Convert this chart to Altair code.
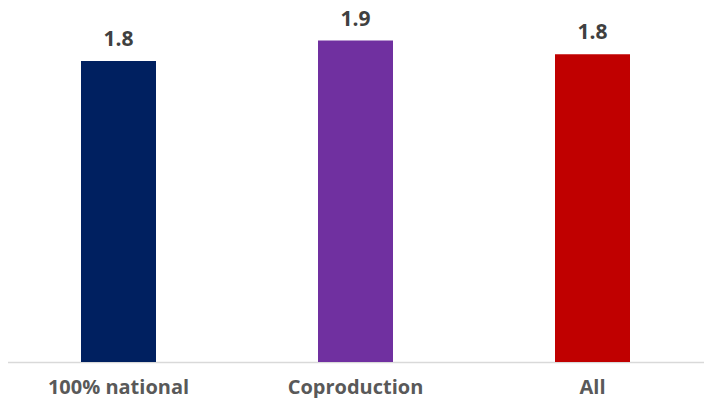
import altair as alt
import pandas as pd

categories = ["100% national", "Coproduction", "All"]
values = [1.76, 1.88, 1.80]
labels = ["1.8", "1.9", "1.8"]
colors = ["#002060", "#7030A0", "#C00000"]

df = pd.DataFrame({"cat": categories, "value": values, "label": labels})

x = alt.X("cat:N", sort=categories, title=None,
          axis=alt.Axis(labelAngle=0, ticks=False, domainColor="#D9D9D9", domainWidth=1.5,
                        labelFont="Open Sans", labelFontWeight="bold", labelFontSize=20,
                        labelColor="#595959", labelPadding=15),
          scale=alt.Scale(paddingInner=0.68, paddingOuter=0.34))
y = alt.Y("value:Q", scale=alt.Scale(domain=[0, 2.0]), axis=None)

bars = alt.Chart(df).mark_bar(size=75).encode(
    x=x, y=y,
    color=alt.Color("cat:N", scale=alt.Scale(domain=categories, range=colors), legend=None),
)
text = alt.Chart(df).mark_text(baseline="alphabetic", dy=-15, font="Open Sans",
                               fontWeight="bold", fontSize=21, color="#404040").encode(
    x=alt.X("cat:N", sort=categories), y=y, text="label:N")

chart = (bars + text).properties(
    width=711, height=342,
    autosize=alt.AutoSizeParams(type="none"),
    padding={"left": -8, "top": 12, "right": -7, "bottom": 36},
).configure_view(stroke=None)

chart.save("out.html", embed_options={"renderer": "svg", "actions": False})
